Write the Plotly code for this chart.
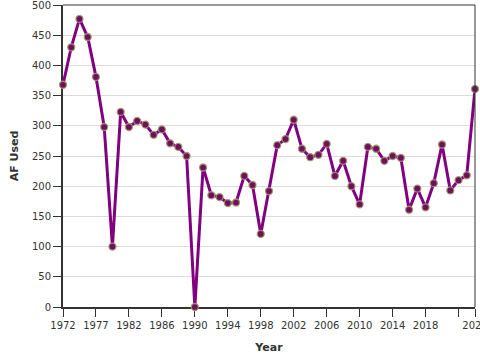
import plotly.graph_objects as go

# ---- data ----
YEARS = ["1972", "1973", "1974", "1975", "1977", "1978", "1979", "1980"] + [str(y) for y in range(1982, 2025)]
AF_USED = [368, 430, 477, 447, 381, 298, 100, 323, 298, 308,
           302, 285, 294, 271, 265, 250, 0, 231, 185, 182,
           172, 173, 217, 202, 121, 192, 268, 278, 310, 262,
           248, 252, 270, 217, 242, 200, 170, 265, 262, 242,
           250, 247, 161, 196, 165, 205, 269, 193, 210, 218,
           361]
TICK_YEARS = ["1972", "1977", "1982", "1986", "1990", "1994", "1998",
              "2002", "2006", "2010", "2014", "2018", "2022", "2024"]
TICK_TEXT = ["1972", "1977", "1982", "1986", "1990", "1994", "1998",
             "2002", "2006", "2010", "2014", "2018", "", "2024"]
Y_TICKS = list(range(0, 501, 50))

FONT = "DejaVu Sans, Verdana, sans-serif"

fig = go.Figure()
fig.add_trace(go.Scatter(
    x=YEARS, y=AF_USED, mode="lines+markers",
    line=dict(color="#800080", width=3),
    marker=dict(size=7, color="#6e1060",
                line=dict(color="rgba(165,150,105,0.9)", width=1.3)),
    cliponaxis=False, showlegend=False,
))

fig.update_layout(
    width=480, height=360,
    margin=dict(l=63, r=5, t=5, b=53),
    paper_bgcolor="white", plot_bgcolor="white",
    font=dict(family=FONT, size=10, color="#333"),
    xaxis=dict(
        type="category", range=[0, len(YEARS) - 1], automargin=False,
        tickmode="array", tickvals=TICK_YEARS, ticktext=TICK_TEXT,
        tickangle=0, ticks="outside", ticklen=8, tickwidth=1, tickcolor="#333",
        ticklabeloverflow="allow",
        showline=True, linewidth=2, linecolor="#333", showgrid=False,
        zeroline=False, layer="below traces",
        title=dict(text="<b>Year</b>", font=dict(size=11, color="#333"), standoff=13),
    ),
    yaxis=dict(
        range=[0, 500], tickmode="array", tickvals=Y_TICKS, automargin=False,
        ticks="outside", ticklen=8, tickwidth=1, tickcolor="#333",
        ticklabeloverflow="allow",
        showline=True, linewidth=2, linecolor="#333",
        showgrid=True, gridcolor="#dcdcdc", gridwidth=1, zeroline=False,
        layer="below traces",
        title=dict(text="<b>AF Used</b>", font=dict(size=11, color="#333"), standoff=11),
    ),
    shapes=[
        dict(type="line", xref="paper", yref="paper", x0=0, x1=1, y0=1, y1=1,
             line=dict(color="#333", width=1)),
        dict(type="line", xref="paper", yref="paper", x0=1, x1=1, y0=0, y1=1,
             line=dict(color="#333", width=1)),
    ],
)

fig.write_html("out.html")
